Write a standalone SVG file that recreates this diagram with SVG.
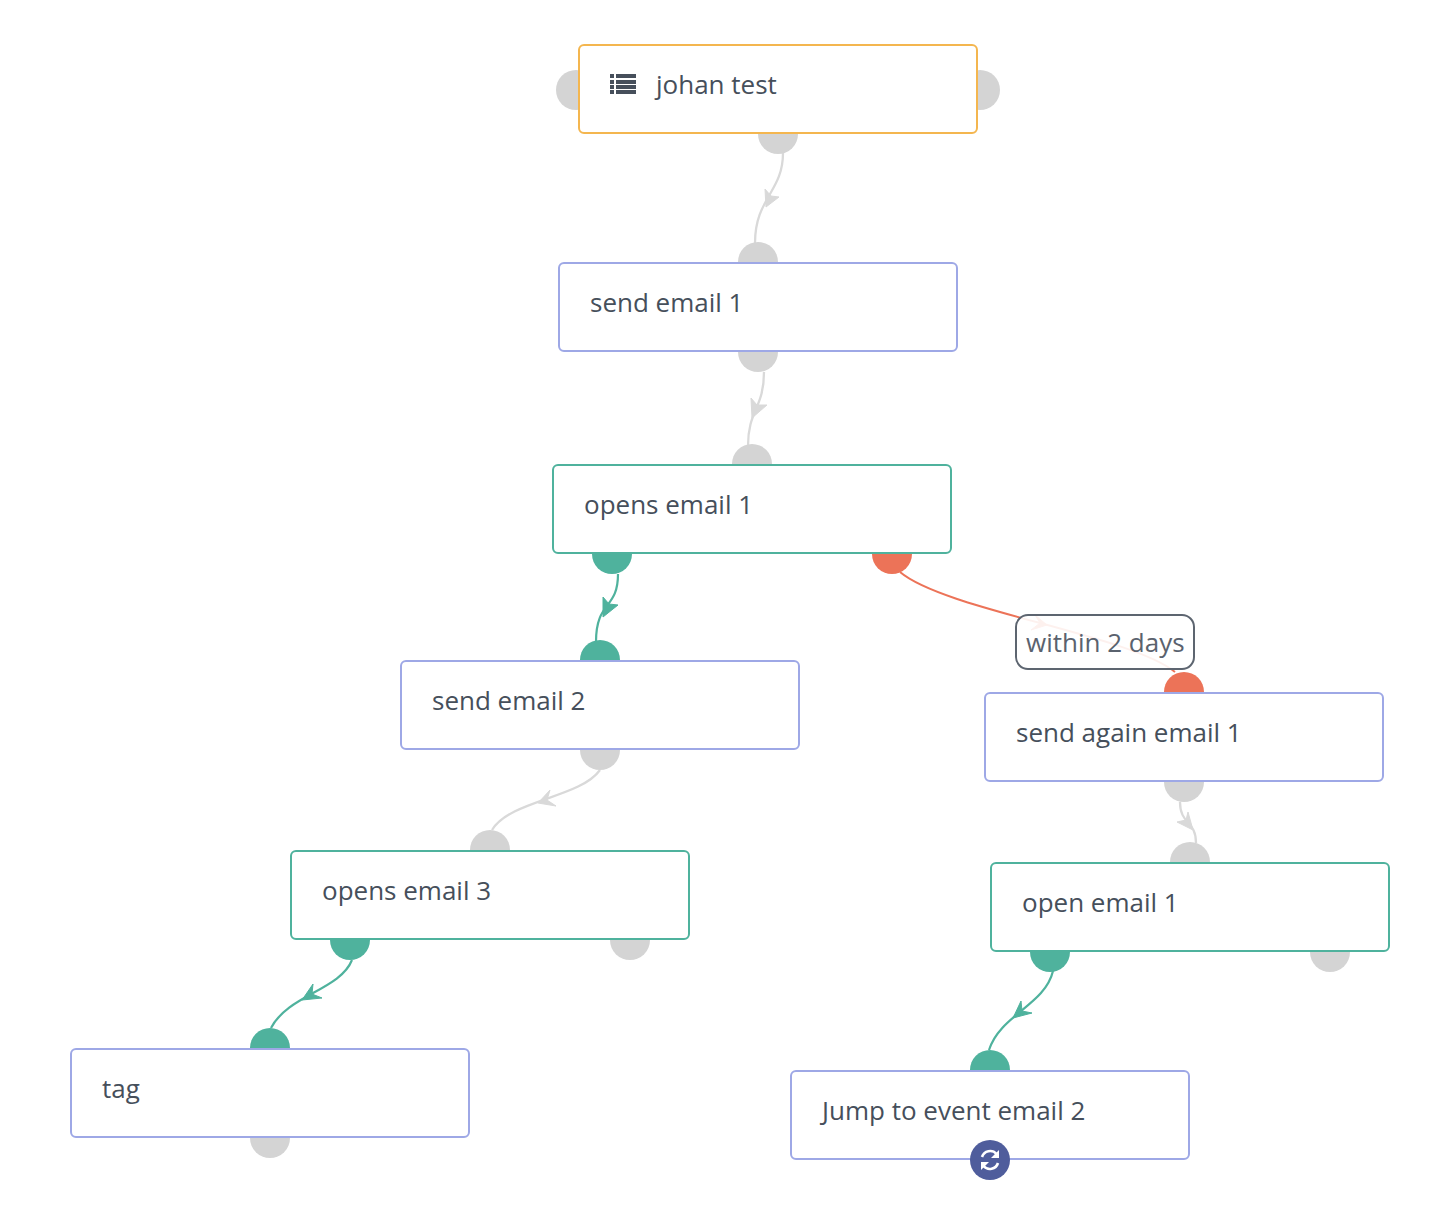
<svg xmlns="http://www.w3.org/2000/svg" width="1444" height="1220" viewBox="0 0 1444 1220">
<style>
text{font-family:"Open Sans","Noto Sans","Liberation Sans",sans-serif;font-size:26px;fill:#464f5b}
.box{fill:#fff;stroke-width:2}
.act{stroke:#9ea8e6}.cond{stroke:#4fb29d}.start{stroke:#f4b64f}
.g{fill:#d4d4d4}.t{fill:#4fb29d}.r{fill:#ec7358}
.cg{fill:none;stroke:#d9d9d9;stroke-width:2.3}.ct{fill:none;stroke:#4fb29d;stroke-width:2.2}.cr{fill:none;stroke:#ec7358;stroke-width:2}
.ag{fill:#d9d9d9;stroke:#d9d9d9;stroke-linejoin:round}.at{fill:#4fb29d;stroke:#4fb29d;stroke-linejoin:round}.ar{fill:#ec7358;stroke:#ec7358;stroke-linejoin:round}
</style>
<g id="connectors">
<path class="cg" d="M783 153C783 192 755 198 755 243"/><path class="ag" d="M765 189L771 196L779 197L766 207Z"/>
<path class="cg" d="M764 372C764 408 748 410 748 446"/><path class="ag" d="M751 398L757 405L767 405L752 418Z"/>
<path class="ct" d="M618 574C618 610 596 600 596 642"/><path class="at" d="M603 597L609 604L618 605L603 617Z"/>
<path class="cg" d="M600 770C580 798 510 800 492 830"/><path class="ag" d="M550 790L547 800L556 806L538 803Z"/>
<path class="ct" d="M352 960C340 990 288 995 271 1028"/><path class="at" d="M313 984L312 994L322 998L302 1000Z"/>
<path class="cr" d="M900 572C945 610 1130 635 1175 672"/><path class="ar" d="M1035 615L1040 623L1031 630L1047 625Z"/>
<path class="cg" d="M1180 802C1180 825 1196 820 1196 843"/><path class="ag" d="M1188 812L1186 820L1177 822L1193 830Z"/>
<path class="ct" d="M1053 971C1045 1005 1000 1015 989 1050"/><path class="at" d="M1021 1001L1022 1011L1032 1013L1013 1018Z"/>
</g>
<g id="node-johan-test">
<circle class="g" cx="576" cy="90" r="20"/><circle class="g" cx="980" cy="90" r="20"/><circle class="g" cx="778" cy="134" r="20"/>
<rect class="box start" x="579" y="45" width="398" height="88" rx="5"/>
<path fill="#464f5b" d="M610 74h4v4h-4zM616 74h20v4h-20zM610 80h4v4h-4zM616 80h20v4h-20zM610 85h4v4h-4zM616 85h20v4h-20zM610 90h4v4h-4zM616 90h20v4h-20z"/>
<text x="656" y="94">johan test</text>
</g>
<g id="node-send-email-1">
<circle class="g" cx="758" cy="262" r="20"/><circle class="g" cx="758" cy="352" r="20"/>
<rect class="box act" x="559" y="263" width="398" height="88" rx="5"/>
<text x="590" y="312">send email 1</text>
</g>
<g id="node-opens-email-1">
<circle class="g" cx="752" cy="464" r="20"/><circle class="t" cx="612" cy="554" r="20"/><circle class="r" cx="892" cy="554" r="20"/>
<rect class="box cond" x="553" y="465" width="398" height="88" rx="5"/>
<text x="584" y="514">opens email 1</text>
</g>
<g id="node-send-email-2">
<circle class="t" cx="600" cy="660" r="20"/><circle class="g" cx="600" cy="750" r="20"/>
<rect class="box act" x="401" y="661" width="398" height="88" rx="5"/>
<text x="432" y="710">send email 2</text>
</g>
<g id="node-opens-email-3">
<circle class="g" cx="490" cy="850" r="20"/><circle class="t" cx="350" cy="940" r="20"/><circle class="g" cx="630" cy="940" r="20"/>
<rect class="box cond" x="291" y="851" width="398" height="88" rx="5"/>
<text x="322" y="900">opens email 3</text>
</g>
<g id="node-tag">
<circle class="t" cx="270" cy="1048" r="20"/><circle class="g" cx="270" cy="1138" r="20"/>
<rect class="box act" x="71" y="1049" width="398" height="88" rx="5"/>
<text x="102" y="1098">tag</text>
</g>
<g id="node-send-again-email-1">
<circle class="r" cx="1184" cy="692" r="20"/><circle class="g" cx="1184" cy="782" r="20"/>
<rect class="box act" x="985" y="693" width="398" height="88" rx="5"/>
<text x="1016" y="742">send again email 1</text>
</g>
<g id="node-open-email-1">
<circle class="g" cx="1190" cy="862" r="20"/><circle class="t" cx="1050" cy="952" r="20"/><circle class="g" cx="1330" cy="952" r="20"/>
<rect class="box cond" x="991" y="863" width="398" height="88" rx="5"/>
<text x="1022" y="912">open email 1</text>
</g>
<g id="node-jump-to-event-email-2">
<circle class="t" cx="990" cy="1070" r="20"/>
<rect class="box act" x="791" y="1071" width="398" height="88" rx="5"/>
<text x="822" y="1120">Jump to event email 2</text>
<circle cx="990" cy="1160" r="20" fill="#4f5d9c"/>
<path d="M982 1157A8.500 8.500 0 0 1 996.500 1154M998 1163A8.500 8.500 0 0 1 983.500 1166" fill="none" stroke="#fff" stroke-width="2.600"/>
<path fill="#fff" d="M999 1150V1158H991ZM981 1170V1162H989Z"/>
</g>
<g id="label-within-2-days">
<rect x="1016" y="615" width="178" height="54" rx="12" fill="#fff" fill-opacity="0.9" stroke="#5d6570" stroke-width="2"/>
<text x="1026" y="652" style="fill:#5a626e">within 2 days</text>
</g>
</svg>
